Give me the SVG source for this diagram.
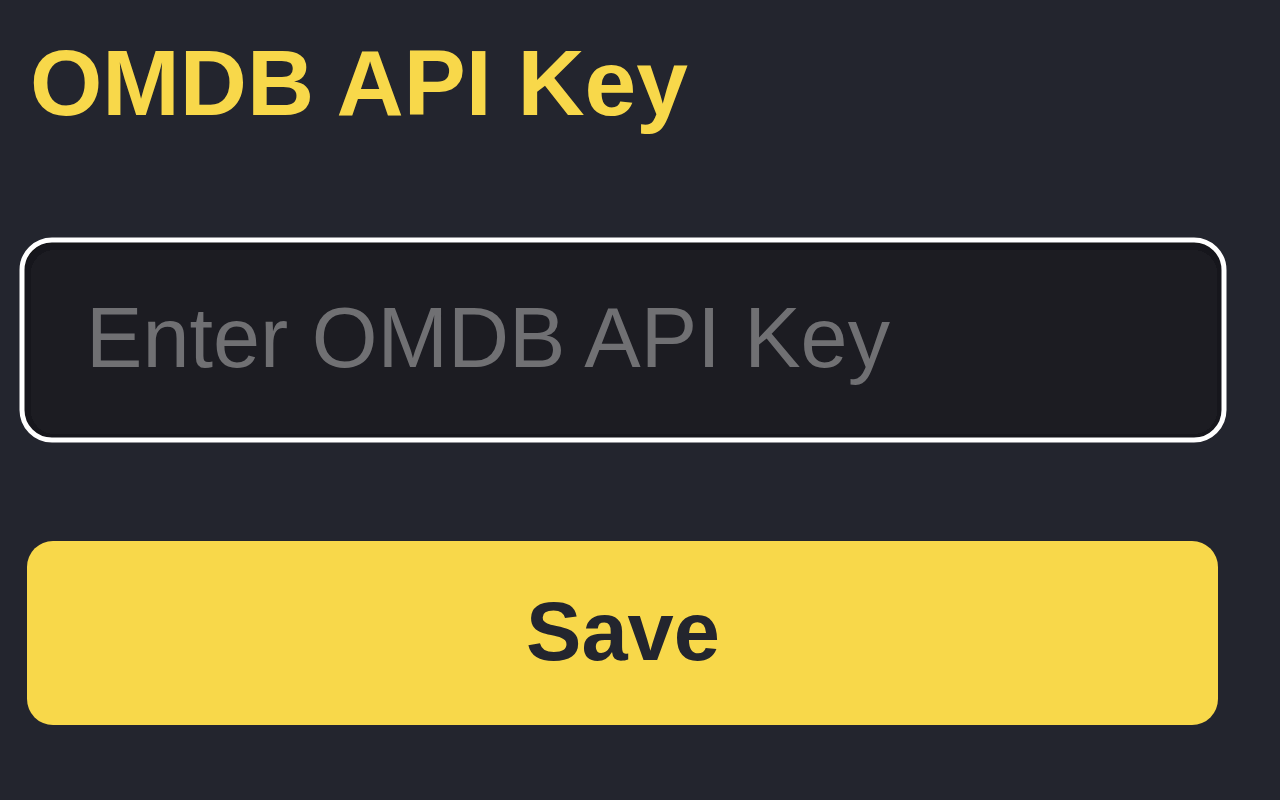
<svg xmlns="http://www.w3.org/2000/svg" width="1280" height="800" viewBox="0 0 1280 800">
<style>
.t{font-family:"Liberation Sans",Arial,sans-serif}
.b{font-weight:bold}
</style>
<defs>
<filter id="inset" x="-5%" y="-5%" width="110%" height="110%">
<feGaussianBlur in="SourceAlpha" stdDeviation="3" result="b"/>
<feOffset dy="2" dx="1" result="o"/>
<feComposite in="SourceAlpha" in2="o" operator="out" result="s"/>
<feFlood flood-color="#000" flood-opacity="0.8"/>
<feComposite in2="s" operator="in" result="sh"/>
<feMerge><feMergeNode in="SourceGraphic"/><feMergeNode in="sh"/></feMerge>
</filter>
</defs>
<rect width="1280" height="800" fill="#23252e"/>
<g id="heading">
<text class="t b" x="30" y="115" font-size="93" fill="#f8d84a">OMDB API Key</text>
</g>
<g id="input">
<rect x="22" y="240" width="1202" height="200" rx="30" fill="#1a1b20" filter="url(#inset)"/>
<rect x="22" y="240" width="1202" height="200" rx="30" fill="none" stroke="#ffffff" stroke-width="5"/>
<text class="t" x="86" y="367" font-size="84.6" fill="#707073">Enter OMDB API Key</text>
</g>
<g id="save">
<rect x="27" y="541" width="1191" height="184" rx="26" fill="#f8d84a"/>
<text class="t b" x="623" y="660" font-size="83" fill="#23252e" text-anchor="middle">Save</text>
</g>
</svg>
